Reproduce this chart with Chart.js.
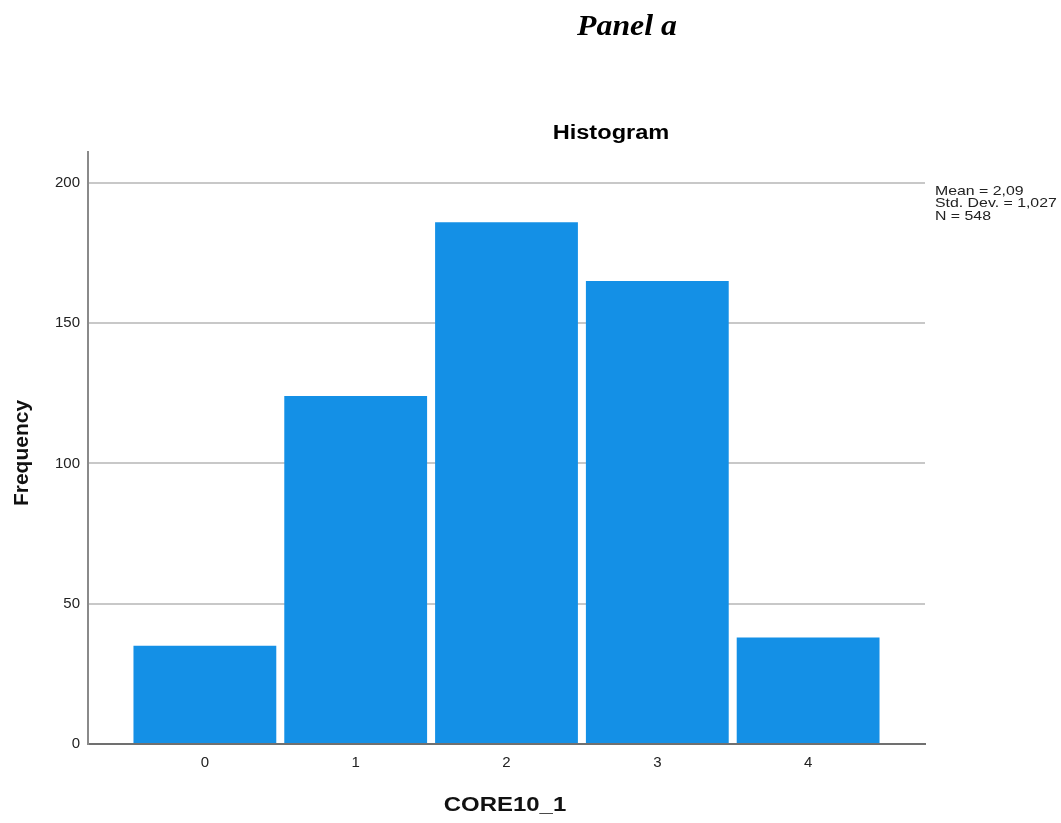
<!DOCTYPE html>
<html>
<head>
<meta charset="utf-8">
<script src="https://cdn.jsdelivr.net/npm/chart.js@4.4.0/dist/chart.umd.min.js"></script>
<style>
  html, body { margin: 0; padding: 0; background: #fff; }
  #wrap { width: 1061px; height: 823px; position: relative; }
</style>
</head>
<body>
<div id="wrap"><canvas id="myChart" width="1061" height="823"></canvas></div>
<script>
// data
const categories = [0, 1, 2, 3, 4];
const frequencies = [35, 124, 186, 165, 38];
const yTicks = [0, 50, 100, 150, 200];
const statsLines = ['Mean = 2,09', 'Std. Dev. = 1,027', 'N = 548'];
const panelLabel = 'Panel a';
const chartTitle = 'Histogram';
const xTitle = 'CORE10_1';
const yTitle = 'Frequency';

Chart.defaults.font.family = '"Liberation Sans", Arial, sans-serif';
Chart.defaults.color = '#222';

// text drawn with a small horizontal stretch, like the SPSS export
function stretchedText(c, text, x, y, sx) {
    c.save();
    c.translate(x, y);
    c.scale(sx, 1);
    c.fillText(text, 0, 0);
    c.restore();
}

const textPlugin = {
    id: 'texts',
    afterDraw(chart) {
        const c = chart.ctx;
        c.save();
        c.fillStyle = '#000';
        c.textBaseline = 'middle';
        c.textAlign = 'center';
        c.font = 'italic bold 30px "Liberation Serif", "Times New Roman", serif';
        stretchedText(c, panelLabel, 627, 27, 1.06);
        c.font = 'bold 20px "Liberation Sans", Arial, sans-serif';
        stretchedText(c, chartTitle, 611, 133, 1.18);
        c.fillStyle = '#111';
        c.font = 'bold 21px "Liberation Sans", Arial, sans-serif';
        stretchedText(c, xTitle, 505, 805, 1.14);
        // y axis title
        c.save();
        c.translate(22, 453);
        c.rotate(-Math.PI / 2);
        c.fillText(yTitle, 0, 0);
        c.restore();
        c.textAlign = 'left';
        c.fillStyle = '#222';
        c.font = '13px "Liberation Sans", Arial, sans-serif';
        for (let i = 0; i < statsLines.length; i++) {
            stretchedText(c, statsLines[i], 935, 191 + i * 12.5, 1.22);
        }
        c.restore();
    }
};

const ctx = document.getElementById('myChart').getContext('2d');
const myChart = new Chart(ctx, {
    type: 'bar',
    data: {
        datasets: [{
            data: categories.map((c, i) => ({ x: c, y: frequencies[i] })),
            backgroundColor: '#1490E6',
            borderWidth: 0,
            barPercentage: 0.947,
            categoryPercentage: 1
        }]
    },
    options: {
        responsive: false,
        animation: false,
        layout: { padding: { left: 0, right: 136, top: 152, bottom: 0 } },
        plugins: {
            legend: { display: false },
            tooltip: { enabled: false }
        },
        scales: {
            x: {
                type: 'linear',
                offset: false,
                min: -0.775,
                max: 4.775,
                afterBuildTicks: function (scale) {
                    scale.ticks = categories.map(v => ({ value: v }));
                },
                afterFit: function (scale) { scale.height = 79; },
                grid: { display: false, drawTicks: false },
                border: { display: true, color: '#707070', width: 2 },
                ticks: { font: { size: 15 }, color: '#222', padding: 10 }
            },
            y: {
                min: 0,
                max: 211,
                afterBuildTicks: function (scale) {
                    scale.ticks = yTicks.map(v => ({ value: v }));
                },
                afterFit: function (scale) { scale.width = 88; },
                grid: { color: '#c8c8c8', lineWidth: 2, drawTicks: false },
                border: { display: true, color: '#8a8a8a', width: 2 },
                ticks: { font: { size: 15 }, color: '#222', padding: 8 }
            }
        }
    },
    plugins: [textPlugin]
});
</script>
</body>
</html>
